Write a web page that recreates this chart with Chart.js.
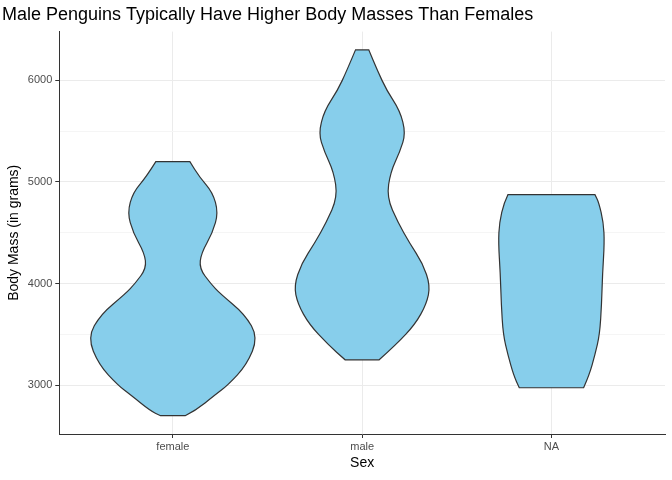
<!DOCTYPE html>
<html><head><meta charset="utf-8">
<script src="https://cdn.jsdelivr.net/npm/chart.js@4/dist/chart.umd.min.js"></script>
<style>body{margin:0;background:#fff}#wrap{width:672px;height:480px}</style>
</head><body><div id="wrap"><canvas id="c"></canvas></div>
<script>
const categories = ['female', 'male', 'NA'];
// density profile per group: body mass (g) and violin half-width (in category units)
const femaleMass = [2700, 2750, 2900, 3000, 3200, 3470, 3700, 3900, 4000, 4150, 4300, 4500, 4700, 4900, 5050, 5200];
const femaleHalf = [0.065, 0.12, 0.22, 0.29, 0.39, 0.45, 0.38, 0.25, 0.2, 0.14, 0.15, 0.21, 0.24, 0.21, 0.14, 0.09];
const maleMass = [3250, 3400, 3600, 3800, 3980, 4200, 4400, 4600, 4850, 5100, 5300, 5480, 5700, 5900, 6100, 6300];
const maleHalf = [0.09, 0.18, 0.28, 0.34, 0.36, 0.32, 0.25, 0.19, 0.13, 0.15, 0.2, 0.23, 0.2, 0.13, 0.08, 0.035];
const naMass = [2975, 3100, 3300, 3500, 3800, 4100, 4400, 4600, 4800, 4875];
const naHalf = [0.17, 0.2, 0.23, 0.255, 0.265, 0.27, 0.28, 0.275, 0.25, 0.23];
const yTicks = [3000, 4000, 5000, 6000];

function outline(center, mass, half) {
    const pts = [];
    for (let i = 0; i < mass.length; i++) pts.push({x: center + half[i], y: mass[i]});
    for (let i = mass.length - 1; i >= 0; i--) pts.push({x: center - half[i], y: mass[i]});
    return pts;
}

const groups = [[femaleMass, femaleHalf], [maleMass, maleHalf], [naMass, naHalf]];
const datasets = groups.map((g, i) => ({
    label: categories[i],
    data: outline(i + 1, g[0], g[1]),
    showLine: false, pointRadius: 0
}));

// draw each violin as a smooth closed path through the points the scales placed
const violinPlugin = {
    id: 'violin',
    afterDatasetsDraw(chart) {
        const ctx = chart.ctx;
        chart.data.datasets.forEach((ds, di) => {
            const n = ds.data.length, half = n / 2;
            const pts = chart.getDatasetMeta(di).data.map(p => ({x: p.x, y: p.y}));
            ctx.save();
            ctx.beginPath();
            // right side
            const side = (arr) => {
                ctx.lineTo(arr[0].x, arr[0].y);
                for (let i = 1; i < arr.length - 1; i++) {
                    const mx = (arr[i].x + arr[i + 1].x) / 2, my = (arr[i].y + arr[i + 1].y) / 2;
                    ctx.quadraticCurveTo(arr[i].x, arr[i].y, mx, my);
                }
                ctx.lineTo(arr[arr.length - 1].x, arr[arr.length - 1].y);
            };
            ctx.moveTo(pts[0].x, pts[0].y);
            side(pts.slice(0, half));
            side(pts.slice(half));
            ctx.closePath();
            ctx.fillStyle = '#87CEEB';
            ctx.fill();
            ctx.strokeStyle = '#333333';
            ctx.lineWidth = 1.2;
            ctx.stroke();
            ctx.restore();
        });
    }
};

new Chart(document.getElementById('c'), {
    type: 'scatter',
    data: {datasets},
    plugins: [violinPlugin],
    options: {
        responsive: true, maintainAspectRatio: false, animation: false,
        layout: {padding: {left: 2, right: 7, top: 0, bottom: 4}},
        plugins: {
            legend: {display: false}, tooltip: {enabled: false},
            title: {display: true, text: 'Male Penguins Typically Have Higher Body Masses Than Females',
                align: 'start', color: '#000', font: {family: 'Liberation Sans', size: 18, weight: 'normal'},
                padding: {top: 4, bottom: 6}}
        },
        scales: {
            x: {
                type: 'linear', min: 0.4, max: 3.6,
                afterBuildTicks: s => { s.ticks = categories.map((c, i) => ({value: i + 1})); },
                ticks: {callback: (v) => categories[v - 1], color: '#4d4d4d', font: {family: 'Liberation Sans', size: 11}, padding: 2},
                grid: {color: '#ebebeb', tickColor: '#333', tickLength: 4},
                border: {color: '#333'},
                title: {display: true, text: 'Sex', color: '#000', font: {family: 'Liberation Sans', size: 14}, padding: {top: 0}}
            },
            y: {
                min: 2520, max: 6480,
                afterBuildTicks: s => { s.ticks = [2500, 3000, 3500, 4000, 4500, 5000, 5500, 6000].filter(v => v >= 2520).map(v => ({value: v})); },
                ticks: {callback: v => yTicks.includes(v) ? v : '', color: '#4d4d4d', font: {family: 'Liberation Sans', size: 11}, padding: 3},
                grid: {color: c => yTicks.includes(c.tick && c.tick.value) ? '#ebebeb' : '#f5f5f5',
                    tickColor: c => yTicks.includes(c.tick && c.tick.value) ? '#333' : 'rgba(0,0,0,0)', tickLength: 4},
                border: {color: '#333'},
                title: {display: true, text: 'Body Mass (in grams)', color: '#000', font: {family: 'Liberation Sans', size: 14}, padding: {bottom: 2}}
            }
        }
    }
});
</script></body></html>
